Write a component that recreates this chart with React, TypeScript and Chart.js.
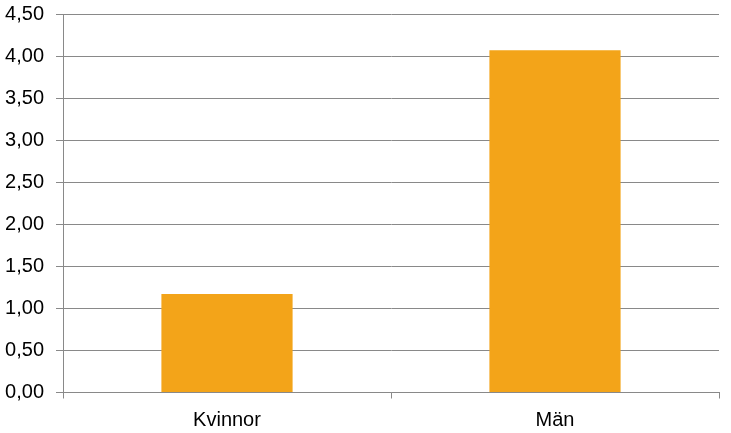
import React, { useEffect, useRef } from 'react';
import Chart from 'chart.js/auto';

const categories = ['Kvinnor', 'Män'];
const values = [1.17, 4.07];
const yTicks = [0, 0.5, 1, 1.5, 2, 2.5, 3, 3.5, 4, 4.5];

const gridColor = '#898989';
const fontFamily = '"Liberation Sans", Arial, sans-serif';

const App: React.FC = () => {
  const canvasRef = useRef<HTMLCanvasElement>(null);
  const chartRef = useRef<Chart | null>(null);

  useEffect(() => {
    document.body.style.margin = '0';
    if (!canvasRef.current) return;
    chartRef.current = new Chart(canvasRef.current, {
      type: 'bar',
      data: {
        labels: categories,
        datasets: [
          {
            data: values,
            backgroundColor: '#F3A419',
            borderWidth: 0,
            barPercentage: 0.4,
            categoryPercentage: 1,
          },
        ],
      },
      options: {
        responsive: false,
        animation: false,
        devicePixelRatio: 1,
        layout: { padding: { top: 14, right: 12, bottom: 0, left: 0 } },
        plugins: {
          legend: { display: false },
          tooltip: { enabled: false },
        },
        scales: {
          x: {
            offset: true,
            grid: {
              offset: true,
              drawOnChartArea: false,
              drawTicks: true,
              tickLength: 6,
              color: gridColor,
            },
            border: { color: gridColor },
            ticks: {
              color: '#000',
              padding: 10,
              font: { family: fontFamily, size: 20 },
            },
            afterFit: (scale: any) => {
              scale.height = 40.5;
              scale.paddingLeft = 0;
              scale.paddingRight = 0;
            },
          },
          y: {
            min: 0,
            max: 4.5,
            afterBuildTicks: (scale: any) => {
              scale.ticks = yTicks.map((v) => ({ value: v }));
            },
            grid: {
              color: gridColor,
              tickLength: 7,
            },
            border: { color: gridColor },
            ticks: {
              color: '#000',
              padding: 12,
              font: { family: fontFamily, size: 20 },
              callback: (v: any) => Number(v).toFixed(2).replace('.', ','),
            },
            afterFit: (scale: any) => {
              scale.width = 63;
              scale.paddingTop = 0;
              scale.paddingBottom = 0;
            },
          },
        },
      },
    });
    return () => {
      if (chartRef.current) {
        chartRef.current.destroy();
        chartRef.current = null;
      }
    };
  }, []);

  return (
    <div style={{ width: 731, height: 433, background: '#fff' }}>
      <canvas ref={canvasRef} width={731} height={433}></canvas>
    </div>
  );
};

export default App;
